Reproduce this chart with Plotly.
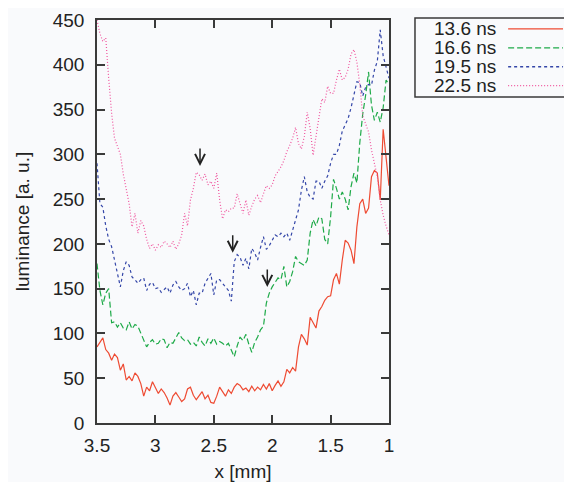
import plotly.graph_objects as go

# x positions (mm)
x_mm = [3.5, 3.475, 3.45, 3.425, 3.4, 3.375, 3.35, 3.325, 3.3, 3.275,
        3.25, 3.225, 3.2, 3.175, 3.15, 3.125, 3.1, 3.075, 3.05, 3.025,
        3.0, 2.975, 2.95, 2.925, 2.9, 2.875, 2.85, 2.825, 2.8, 2.775,
        2.75, 2.725, 2.7, 2.675, 2.65, 2.625, 2.6, 2.575, 2.55, 2.525,
        2.5, 2.475, 2.45, 2.425, 2.4, 2.375, 2.35, 2.325, 2.3, 2.275,
        2.25, 2.225, 2.2, 2.175, 2.15, 2.125, 2.1, 2.075, 2.05, 2.025,
        2.0, 1.975, 1.95, 1.925, 1.9, 1.875, 1.85, 1.825, 1.8, 1.775,
        1.75, 1.725, 1.7, 1.675, 1.65, 1.625, 1.6, 1.575, 1.55, 1.525,
        1.5, 1.475, 1.45, 1.425, 1.4, 1.375, 1.35, 1.325, 1.3, 1.275,
        1.25, 1.225, 1.2, 1.175, 1.15, 1.125, 1.1, 1.075, 1.05, 1.025, 1.0]

lum_13_6 = [85, 90, 95, 82, 78, 70, 77, 73, 59, 66,
            48, 52, 47, 56, 52, 44, 30, 40, 36, 46,
            40, 33, 38, 34, 28, 20, 30, 34, 29, 24,
            27, 38, 40, 31, 26, 30, 35, 27, 31, 23,
            22, 30, 40, 35, 30, 37, 33, 40, 44, 42,
            37, 39, 35, 41, 36, 40, 37, 43, 38, 44,
            36, 42, 47, 41, 46, 60, 56, 62, 58, 85,
            99, 94, 87, 118, 112, 106, 125, 130, 137, 141,
            142, 160, 167, 155, 182, 204, 201, 193, 178, 219,
            245, 250, 234, 240, 275, 282, 279, 249, 328, 295, 265]

lum_16_6 = [178, 148, 132, 145, 150, 112, 113, 107, 112, 106,
            104, 113, 105, 110, 108, 100, 94, 85, 90, 93,
            88, 89, 94, 93, 84, 90, 89, 95, 101, 95,
            92, 93, 88, 90, 86, 96, 90, 86, 94, 89,
            95, 88, 91, 89, 86, 89, 82, 74, 86, 96,
            92, 99, 88, 79, 90, 96, 104, 108, 134, 145,
            152, 157, 162, 160, 175, 152, 158, 169, 186, 180,
            178, 176, 182, 212, 227, 220, 230, 228, 205, 200,
            230, 272, 262, 250, 258, 250, 238, 264, 279, 268,
            313, 345, 366, 392, 355, 338, 347, 336, 352, 383, 378]

lum_19_5 = [290, 245, 241, 220, 205, 197, 182, 167, 152, 170,
            180, 176, 163, 160, 156, 160, 162, 148, 155, 157,
            150, 151, 146, 149, 152, 145, 154, 158, 152, 148,
            150, 156, 141, 148, 132, 145, 145, 156, 162, 167,
            143, 160, 160, 156, 152, 148, 136, 180, 188, 185,
            176, 184, 172, 195, 190, 182, 196, 208, 194, 198,
            204, 210, 208, 212, 208, 212, 204, 215, 226, 238,
            260, 275, 258, 252, 250, 270, 270, 262, 270, 276,
            290, 300, 300, 310, 326, 333, 340, 352, 366, 381,
            380, 365, 375, 378, 377, 394, 404, 439, 410, 398, 385]

lum_22_5 = [450, 435, 426, 430, 385, 346, 318, 308, 300, 278,
            260, 245, 219, 234, 212, 226, 220, 205, 195, 200,
            193, 199, 196, 203, 200, 196, 203, 194, 200, 210,
            234, 220, 249, 262, 280, 277, 271, 278, 266, 270,
            262, 279, 249, 228, 238, 236, 240, 240, 256, 245,
            234, 249, 232, 242, 250, 254, 246, 256, 265, 262,
            266, 276, 281, 286, 293, 303, 310, 318, 330, 312,
            306, 320, 347, 329, 299, 320, 338, 362, 358, 376,
            368, 368, 383, 395, 383, 386, 395, 412, 417, 403,
            378, 343, 334, 325, 305, 288, 275, 249, 232, 220, 210]

series_names = ["13.6 ns", "16.6 ns", "19.5 ns", "22.5 ns"]
series_values = [lum_13_6, lum_16_6, lum_19_5, lum_22_5]
colors = ["#ee4b33", "#1eaa48", "#3446a8", "#f0559e"]
dashes = ["solid", "6px,3px", "3px,3px", "1px,2px"]

# arrow markers (x mm, luminance at arrow tip)
arrow_x = [2.618, 2.338, 2.042]
arrow_y = [287, 190, 152]

FONT = "Liberation Sans, Arial, sans-serif"
TXT = "#222222"
AX = "#3a3a3a"
FS = 19

fig = go.Figure()
for name, vals, c, d in zip(series_names, series_values, colors, dashes):
    fig.add_trace(go.Scatter(x=x_mm, y=vals, mode="lines", name=name,
                             line=dict(color=c, width=1.2, dash=d),
                             showlegend=False))

for ax_, ay_ in zip(arrow_x, arrow_y):
    fig.add_annotation(x=ax_, y=ay_, xref="x", yref="y", text="",
                       showarrow=True, ax=0, ay=-19, arrowhead=5,
                       arrowsize=1.3, arrowwidth=1.5, arrowcolor="#222222",
                       standoff=0)

# custom legend (text then line sample, as in the reference)
fig.add_shape(type="rect", xref="paper", yref="paper",
              x0=1.089, x1=1.606, y0=0.809, y1=1.005,
              line=dict(color=AX, width=1.5), fillcolor="rgba(0,0,0,0)")
row_y = [0.978, 0.931, 0.884, 0.837]
for name, c, d, ry in zip(series_names, colors, dashes, row_y):
    fig.add_annotation(x=1.372, y=ry, xref="paper", yref="paper", text=name,
                       showarrow=False, xanchor="right", yanchor="middle",
                       font=dict(family=FONT, size=FS, color=TXT))
    fig.add_shape(type="line", xref="paper", yref="paper",
                  x0=1.408, x1=1.596, y0=ry, y1=ry,
                  line=dict(color=c, width=1.3, dash=d))

axis_common = dict(showline=True, linecolor=AX, linewidth=1.5, mirror="allticks",
                   ticks="inside", ticklen=8, tickwidth=1.5, tickcolor=AX,
                   showgrid=False, zeroline=False,
                   tickfont=dict(family=FONT, size=FS, color=TXT))

fig.update_xaxes(range=[3.5, 1.0], dtick=0.5, tick0=1.0,
                 title=dict(text="x [mm]", font=dict(family=FONT, size=FS, color=TXT), standoff=12),
                 ticklabelstandoff=4, **axis_common)
fig.update_yaxes(range=[0, 450], dtick=50, tick0=0,
                 title=dict(text="luminance [a. u.]", font=dict(family=FONT, size=FS, color=TXT), standoff=18),
                 ticklabelstandoff=7, **axis_common)

# the page adds an 8px body margin, so the figure is 8px smaller and margins shifted
fig.update_layout(width=564, height=474,
                  margin=dict(l=89, r=183, t=12, b=59, autoexpand=False),
                  paper_bgcolor="#f9fafc", plot_bgcolor="#f9fafc",
                  font=dict(family=FONT, color=TXT),
                  showlegend=False)

fig.write_html("out.html")
